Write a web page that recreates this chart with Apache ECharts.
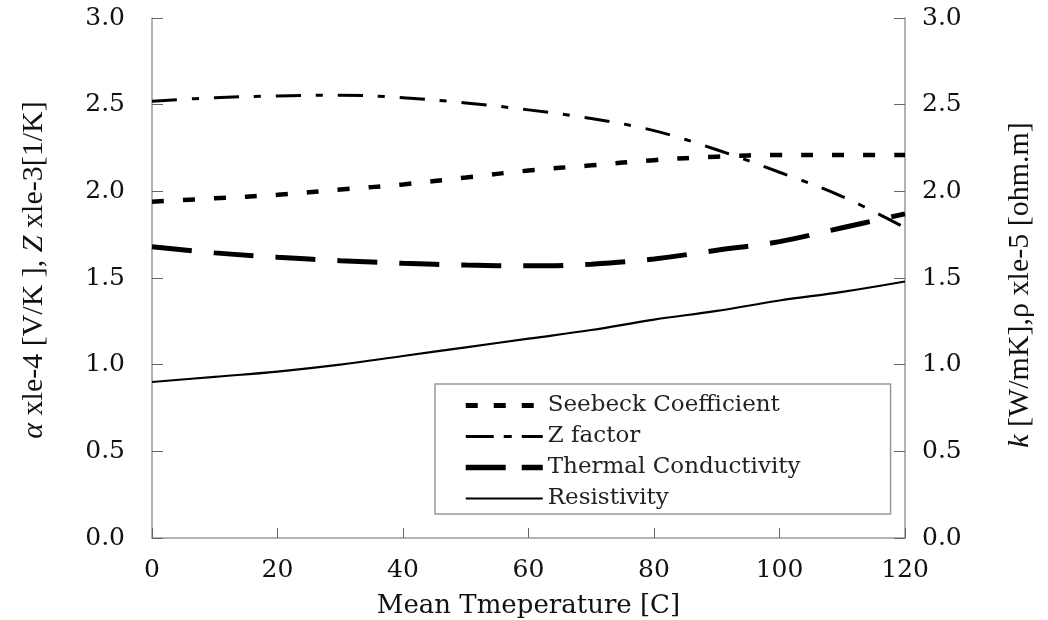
<!DOCTYPE html>
<html>
<head>
<meta charset="utf-8">
<script src="https://cdn.jsdelivr.net/npm/echarts@6/dist/echarts.min.js"></script>
<style>
html,body{margin:0;padding:0;background:#fff;}
#chart{width:1048px;height:620px;}
</style>
</head>
<body>
<div id="chart"></div>
<script>
// Data
const temps = [0, 10, 20, 30, 40, 50, 60, 70, 80, 90, 100, 110, 120];
const seebeck = [1.94, 1.96, 1.98, 2.01, 2.04, 2.08, 2.12, 2.15, 2.18, 2.20, 2.21, 2.21, 2.21];
const zFactor = [2.52, 2.54, 2.55, 2.555, 2.54, 2.51, 2.47, 2.42, 2.35, 2.24, 2.11, 1.97, 1.79];
const thermal = [1.68, 1.645, 1.62, 1.60, 1.585, 1.575, 1.57, 1.58, 1.61, 1.66, 1.71, 1.79, 1.87];
const resistivity = [0.90, 0.93, 0.96, 1.00, 1.05, 1.10, 1.15, 1.20, 1.26, 1.31, 1.37, 1.42, 1.48];
const seriesNames = ['Seebeck Coefficient', 'Z factor', 'Thermal Conductivity', 'Resistivity'];
const xTicks = [0, 20, 40, 60, 80, 100, 120];
const yTicks = [0.0, 0.5, 1.0, 1.5, 2.0, 2.5, 3.0];

const pairs = arr => temps.map((t, i) => [t, arr[i]]);

const lineStyles = [
  {color: '#000', width: 4.5, type: [12, 19], cap: 'butt'},
  {color: '#000', width: 3, type: [25, 15, 7, 15], cap: 'butt'},
  {color: '#000', width: 5, type: [40, 22], cap: 'butt'},
  {color: '#000', width: 2.2, type: 'solid'}
];
const legendLineStyles = [
  {color: '#000', width: 5, type: [12, 16], cap: 'butt'},
  {color: '#000', width: 3, type: [28, 10, 8, 10], cap: 'butt'},
  {color: '#000', width: 5.5, type: [40, 16], cap: 'butt'},
  {color: '#000', width: 2.2, type: 'solid'}
];
const axisIndex = [0, 0, 1, 1];
const seriesData = [seebeck, zFactor, thermal, resistivity];

const chart = echarts.init(document.getElementById('chart'), null, {renderer: 'canvas'});
const axisGray = '#9a9a9a';
const tickFont = {fontFamily: 'DejaVu Serif', fontSize: 25, color: '#111'};

chart.setOption({
  backgroundColor: '#fff',
  animation: false,
  grid: {left: 152, right: 143, top: 18, bottom: 82, containLabel: false, outerBoundsMode: 'none'},
  legend: {
    orient: 'vertical',
    left: 435,
    top: 384,
    data: seriesNames.map((n, i) => ({name: n, lineStyle: legendLineStyles[i]})),
    itemWidth: 77,
    itemHeight: 14,
    itemGap: 8,
    padding: [10, 90, 4, 28],
    backgroundColor: '#fff',
    borderColor: '#999',
    borderWidth: 1.5,
    itemStyle: {opacity: 0, borderWidth: 0},
    textStyle: {fontFamily: 'DejaVu Serif', fontSize: 23, color: '#222', lineHeight: 22}
  },
  xAxis: {
    type: 'value',
    min: xTicks[0], max: xTicks[xTicks.length - 1], interval: 20,
    name: 'Mean Tmeperature [C]',
    nameLocation: 'middle', nameGap: 55,
    nameTextStyle: {fontFamily: 'DejaVu Serif', fontSize: 26, color: '#111'},
    axisLine: {lineStyle: {color: axisGray, width: 1.5}},
    axisTick: {inside: true, length: 10, lineStyle: {color: '#666', width: 1}},
    axisLabel: Object.assign({margin: 20}, tickFont),
    splitLine: {show: false}
  },
  yAxis: [
    {
      type: 'value', min: yTicks[0], max: yTicks[yTicks.length - 1], interval: 0.5,
      name: '{a|α} xle-4 [V/K ], {i|Z} xle-3[1/K]',
      nameLocation: 'middle', nameRotate: 90, nameGap: 103,
      nameTextStyle: {
        fontFamily: 'Liberation Serif', fontSize: 30, color: '#111',
        padding: [0, 0, 0, 16],
        rich: {
          a: {fontFamily: 'Liberation Serif', fontSize: 30, fontStyle: 'italic', color: '#111'},
          i: {fontFamily: 'Liberation Serif', fontSize: 30, fontStyle: 'italic', color: '#111'}
        }
      },
      axisLine: {show: true, lineStyle: {color: axisGray, width: 1.5}},
      axisTick: {show: true, inside: true, length: 11, lineStyle: {color: '#666', width: 1}},
      axisLabel: Object.assign({margin: 27, formatter: v => v.toFixed(1)}, tickFont),
      splitLine: {show: false}
    },
    {
      type: 'value', min: yTicks[0], max: yTicks[yTicks.length - 1], interval: 0.5,
      position: 'right',
      name: '{i|k} [W/mK],ρ xle-5 [ohm.m]',
      nameLocation: 'middle', nameRotate: 90, nameGap: 100,
      nameTextStyle: {
        fontFamily: 'Liberation Serif', fontSize: 30, color: '#111',
        padding: [0, 14, 0, 0],
        rich: {
          i: {fontFamily: 'Liberation Serif', fontSize: 30, fontStyle: 'italic', color: '#111'}
        }
      },
      axisLine: {show: true, lineStyle: {color: axisGray, width: 1.5}},
      axisTick: {show: true, inside: true, length: 11, lineStyle: {color: '#666', width: 1}},
      axisLabel: Object.assign({margin: 17, formatter: v => v.toFixed(1)}, tickFont),
      splitLine: {show: false}
    }
  ],
  series: seriesNames.map((n, i) => ({
    name: n, type: 'line', yAxisIndex: axisIndex[i], smooth: 0.4,
    symbol: 'none', data: pairs(seriesData[i]),
    lineStyle: lineStyles[i],
    itemStyle: {color: '#000'}
  }))
});
</script>
</body>
</html>
